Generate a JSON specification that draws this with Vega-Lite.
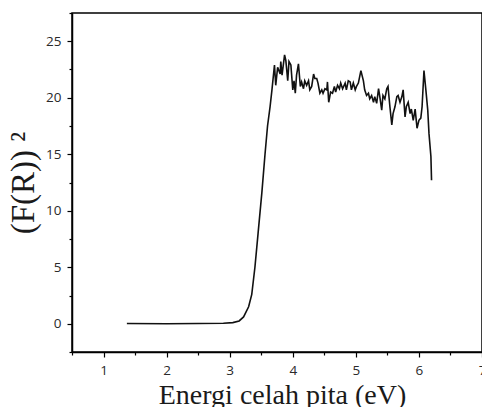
{
  "$schema": "https://vega.github.io/schema/vega-lite/v6.json",
  "autosize": "none",
  "padding": {"left": 72, "top": 13, "right": 0, "bottom": 55},
  "width": 410,
  "height": 339,
  "background": "white",
  "config": {
    "view": {"stroke": "black", "strokeWidth": 1.5},
    "axis": {"domainColor": "black", "domainWidth": 1.5, "tickColor": "black", "tickWidth": 1.2, "grid": false,
      "labelFont": "Open Sans", "labelFontSize": 13.5, "labelColor": "#2a2a2a",
      "titleFont": "Liberation Serif", "titleFontWeight": "normal", "titleColor": "#1a1a1a"}
  },
  "data": {"values": [
    {"x": 1.37, "y": 0.02}, {"x": 2.0, "y": 0.0}, {"x": 2.5, "y": 0.02}, {"x": 2.9, "y": 0.05},
    {"x": 3.05, "y": 0.1}, {"x": 3.15, "y": 0.25}, {"x": 3.22, "y": 0.6}, {"x": 3.30, "y": 1.5},
    {"x": 3.35, "y": 2.6}, {"x": 3.40, "y": 5.0}, {"x": 3.45, "y": 8.0}, {"x": 3.51, "y": 11.6},
    {"x": 3.56, "y": 15.0}, {"x": 3.60, "y": 17.5}, {"x": 3.64, "y": 19.2}, {"x": 3.67, "y": 20.7},
    {"x": 3.71, "y": 22.9}, {"x": 3.73, "y": 21.1}, {"x": 3.76, "y": 22.7}, {"x": 3.80, "y": 22.1},
    {"x": 3.81, "y": 23.2}, {"x": 3.83, "y": 22.0}, {"x": 3.87, "y": 23.8}, {"x": 3.89, "y": 23.3},
    {"x": 3.92, "y": 21.5}, {"x": 3.94, "y": 23.2}, {"x": 3.97, "y": 22.9}, {"x": 4.00, "y": 20.7},
    {"x": 4.02, "y": 21.5}, {"x": 4.04, "y": 20.4}, {"x": 4.06, "y": 22.0}, {"x": 4.09, "y": 23.0},
    {"x": 4.12, "y": 21.0}, {"x": 4.14, "y": 21.4}, {"x": 4.17, "y": 20.8}, {"x": 4.19, "y": 21.5},
    {"x": 4.22, "y": 21.1}, {"x": 4.25, "y": 21.5}, {"x": 4.27, "y": 20.7}, {"x": 4.30, "y": 21.0},
    {"x": 4.33, "y": 22.1}, {"x": 4.35, "y": 21.7}, {"x": 4.38, "y": 21.7}, {"x": 4.40, "y": 21.3},
    {"x": 4.43, "y": 20.4}, {"x": 4.46, "y": 20.7}, {"x": 4.48, "y": 20.4}, {"x": 4.51, "y": 20.8},
    {"x": 4.54, "y": 20.7}, {"x": 4.55, "y": 21.4}, {"x": 4.57, "y": 19.6}, {"x": 4.60, "y": 20.5},
    {"x": 4.63, "y": 20.4}, {"x": 4.66, "y": 21.0}, {"x": 4.68, "y": 20.5}, {"x": 4.71, "y": 21.1},
    {"x": 4.74, "y": 20.8}, {"x": 4.76, "y": 21.3}, {"x": 4.79, "y": 20.8}, {"x": 4.83, "y": 21.3},
    {"x": 4.85, "y": 20.7}, {"x": 4.88, "y": 21.5}, {"x": 4.91, "y": 21.4}, {"x": 4.93, "y": 20.7},
    {"x": 4.96, "y": 21.3}, {"x": 4.99, "y": 20.7}, {"x": 5.01, "y": 21.0}, {"x": 5.04, "y": 21.3},
    {"x": 5.08, "y": 22.4}, {"x": 5.12, "y": 21.5}, {"x": 5.14, "y": 20.7}, {"x": 5.17, "y": 20.2},
    {"x": 5.20, "y": 20.4}, {"x": 5.22, "y": 19.9}, {"x": 5.25, "y": 20.2}, {"x": 5.28, "y": 19.6},
    {"x": 5.30, "y": 20.1}, {"x": 5.33, "y": 19.5}, {"x": 5.36, "y": 20.8}, {"x": 5.38, "y": 20.1},
    {"x": 5.41, "y": 18.9}, {"x": 5.43, "y": 20.2}, {"x": 5.46, "y": 19.9}, {"x": 5.49, "y": 20.8},
    {"x": 5.51, "y": 21.0}, {"x": 5.54, "y": 19.2}, {"x": 5.57, "y": 17.6}, {"x": 5.59, "y": 18.6},
    {"x": 5.62, "y": 19.2}, {"x": 5.65, "y": 20.1}, {"x": 5.67, "y": 20.2}, {"x": 5.70, "y": 19.6},
    {"x": 5.73, "y": 20.1}, {"x": 5.75, "y": 20.7}, {"x": 5.78, "y": 18.3}, {"x": 5.80, "y": 19.2},
    {"x": 5.83, "y": 19.6}, {"x": 5.86, "y": 18.6}, {"x": 5.88, "y": 19.0}, {"x": 5.91, "y": 18.0},
    {"x": 5.94, "y": 19.0}, {"x": 5.97, "y": 17.3}, {"x": 6.00, "y": 18.0}, {"x": 6.03, "y": 18.2},
    {"x": 6.05, "y": 19.2}, {"x": 6.08, "y": 22.4}, {"x": 6.11, "y": 20.7}, {"x": 6.14, "y": 18.9},
    {"x": 6.16, "y": 16.8}, {"x": 6.19, "y": 14.8}, {"x": 6.20, "y": 12.7}
  ]},
  "mark": {"type": "line", "color": "#111111", "strokeWidth": 1.6, "clip": true},
  "encoding": {
    "x": {"field": "x", "type": "quantitative",
      "scale": {"domain": [0.5, 7], "nice": false, "zero": false},
      "axis": {"title": "Energi celah pita (eV)", "titleFontSize": 28,
        "titleX": 210, "titleY": 51, "titleBaseline": "alphabetic", "titleAlign": "center",
        "values": [0.5, 1, 1.5, 2, 2.5, 3, 3.5, 4, 4.5, 5, 5.5, 6, 6.5, 7],
        "labelExpr": "datum.value % 1 === 0 ? format(datum.value, 'd') : ''",
        "tickSize": {"condition": {"test": "datum.value % 1 === 0", "value": 5}, "value": 3},
        "labelPadding": 6, "labelFlush": false, "labelOverlap": false}},
    "y": {"field": "y", "type": "quantitative",
      "scale": {"domain": [-2.5, 27.5], "nice": false, "zero": false},
      "axis": {"title": "(F(R)) ²", "titleFontSize": 33,
        "titleX": -39, "titleBaseline": "alphabetic",
        "values": [-2.5, 0, 2.5, 5, 7.5, 10, 12.5, 15, 17.5, 20, 22.5, 25, 27.5],
        "labelExpr": "datum.value % 5 === 0 ? format(datum.value, 'd') : ''",
        "tickSize": {"condition": {"test": "datum.value % 5 === 0", "value": 5}, "value": 3},
        "labelPadding": 6, "labelOverlap": false}}
  }
}
